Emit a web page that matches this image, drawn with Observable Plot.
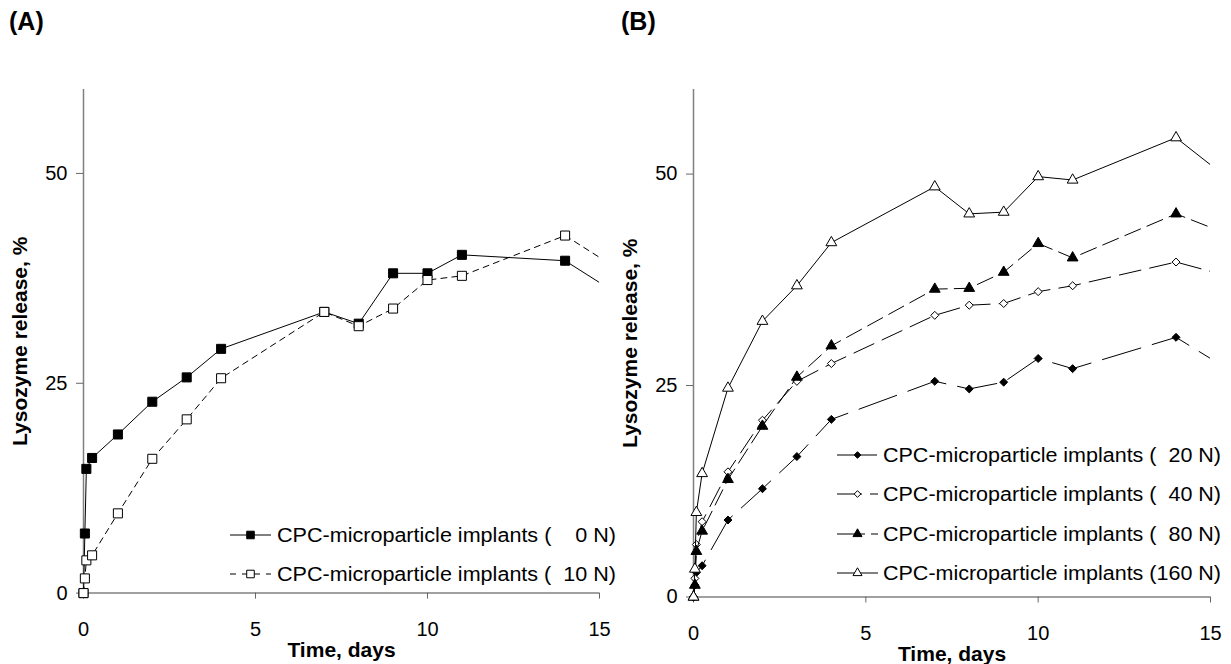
<!DOCTYPE html>
<html><head><meta charset="utf-8">
<script src="https://cdn.jsdelivr.net/npm/d3@7"></script>
<script src="https://cdn.jsdelivr.net/npm/@observablehq/plot@0.6"></script>
<style>
body{margin:0;background:#fff;font-family:"Liberation Sans",Arial,sans-serif;}
#wrap{position:relative;width:1231px;height:664px;overflow:hidden;background:#fff;}
.panel{position:absolute;top:0;}
.ptitle{position:absolute;top:7px;font-weight:bold;font-size:25px;color:#000;}
g[aria-label="x-axis label"] text, g[aria-label="y-axis label"] text{font-weight:bold;font-size:21px;}
</style></head><body><div id="wrap"></div>
<script>
// ---------- data ----------
const panelTitles = ["(A)", "(B)"];
const xTicks = [0, 5, 10, 15];
const yTicks = [0, 25, 50];
const xLabel = "Time, days";
const yLabel = "Lysozyme release, %";

// Panel A
const timesA = [0, 0.04, 0.083, 0.25, 1, 2, 3, 4, 7, 8, 9, 10, 11, 14];
const release0N  = [0, 7.1, 14.8, 16.1, 18.9, 22.8, 25.7, 29.1, 33.5, 32.1, 38.1, 38.1, 40.3, 39.6];
const release10N = [0, 1.75, 3.9, 4.5, 9.5, 16.0, 20.7, 25.6, 33.5, 31.8, 33.9, 37.3, 37.8, 42.6];
// value where each line leaves the plot at the right edge (day 15)
const edgeDay = 15;
const edge0N = 37.0, edge10N = 40.0;

// Panel B
const timesB = [0, 0.04, 0.083, 0.25, 1, 2, 3, 4, 7, 8, 9, 10, 11, 14];
const release20N  = [0, 1.4, 2.9, 3.7, 9.1, 12.8, 16.6, 21.0, 25.5, 24.6, 25.4, 28.2, 27.0, 30.7];
const release40N  = [0, 2.2, 6.2, 8.9, 14.8, 20.9, 25.5, 27.6, 33.3, 34.5, 34.7, 36.1, 36.8, 39.6];
const release80N  = [0, 1.4, 5.4, 7.8, 13.9, 20.2, 26.0, 29.7, 36.4, 36.5, 38.4, 41.8, 40.1, 45.3];
const release160N = [0, 3.3, 10.0, 14.6, 24.7, 32.6, 36.8, 41.9, 48.5, 45.3, 45.5, 49.7, 49.3, 54.3];
const edge20N = 28.2, edge40N = 38.5, edge80N = 43.7, edge160N = 51.1;

const seriesA = [
  {name: "CPC-microparticle implants (    0 N)", t: timesA, v: release0N, edge: edge0N, symbol: "square", fill: "black", dash: null, r: 5.1},
  {name: "CPC-microparticle implants (  10 N)", t: timesA, v: release10N, edge: edge10N, symbol: "square", fill: "white", dash: "6,5", r: 5.1}
];
const seriesB = [
  {name: "CPC-microparticle implants (  20 N)", t: timesB, v: release20N, edge: edge20N, symbol: "diamond2", fill: "black", dash: "40,12", r: 3.6},
  {name: "CPC-microparticle implants (  40 N)", t: timesB, v: release40N, edge: edge40N, symbol: "diamond2", fill: "white", dash: "22,9", r: 3.6},
  {name: "CPC-microparticle implants (  80 N)", t: timesB, v: release80N, edge: edge80N, symbol: "triangle", fill: "black", dash: "17,7", r: 4.0},
  {name: "CPC-microparticle implants (160 N)", t: timesB, v: release160N, edge: edge160N, symbol: "triangle", fill: "white", dash: null, r: 4.0}
];

// ---------- drawing ----------
const wrap = document.getElementById("wrap");

function makePanel(series, opts) {
  const marks = [];
  for (const s of series) {
    const pts = s.t.map((t, i) => ({t, v: s.v[i]}));
    const linePts = pts.concat([{t: edgeDay, v: s.edge}]);
    marks.push(Plot.line(linePts, {x: "t", y: "v", stroke: "black", strokeWidth: 1, strokeDasharray: s.dash || undefined, clip: true}));
    marks.push(Plot.dot(pts, {x: "t", y: "v", symbol: () => s.symbol, r: s.r, fill: s.fill, stroke: "black", strokeWidth: 1}));
  }
  const plot = Plot.plot({
    width: opts.width,
    height: 664,
    marginLeft: 83,
    marginRight: opts.marginRight,
    marginTop: 89,
    marginBottom: opts.marginBottom,
    style: {fontSize: "20px", fontFamily: "'Liberation Sans', Arial, sans-serif", background: "transparent", overflow: "visible"},
    x: {domain: [0, 15]},
    y: {domain: [0, 60]},
    marks: [
      Plot.ruleX([0], {stroke: "#808080", strokeWidth: 1.5}),
      Plot.ruleY([0], {stroke: "#808080", strokeWidth: 1.5}),
      Plot.axisX({ticks: xTicks, tickSize: 6, tickPadding: 23, stroke: "#666", label: xLabel, labelAnchor: "center", labelArrow: "none", labelOffset: 64}),
      Plot.axisY({ticks: yTicks, tickSize: 7, tickPadding: 9, stroke: "#666", label: yLabel, labelAnchor: "center", labelArrow: "none", labelOffset: opts.yLabelOffset}),
      ...marks
    ]
  });
  plot.classList.add("panel");
  plot.style.left = opts.left + "px";
  wrap.appendChild(plot);

  // legend
  const svg = d3.select(plot);
  const lg = svg.append("g").attr("class", "legend").attr("text-anchor", "start");
  const symMap = {square: d3.symbolSquare, diamond2: d3.symbolDiamond2, triangle: d3.symbolTriangle};
  series.forEach((s, i) => {
    const y = opts.legendY[i];
    const row = lg.append("g");
    row.append("line").attr("x1", opts.lx0).attr("x2", opts.lx1).attr("y1", y).attr("y2", y)
      .attr("stroke", "black").attr("stroke-width", 1).attr("stroke-dasharray", s.dash ? opts.sampleDash[i] : null);
    row.append("path").attr("transform", `translate(${(opts.lx0 + opts.lx1) / 2},${y})`)
      .attr("d", d3.symbol(symMap[s.symbol], Math.PI * s.r * s.r * 0.7)())
      .attr("fill", s.fill).attr("stroke", "black");
    row.append("text").attr("x", opts.tx).attr("y", y).attr("dy", "0.36em")
      .attr("text-anchor", "start")
      .attr("font-size", 19.5).attr("font-family", "'Liberation Sans', Arial, sans-serif")
      .attr("textLength", opts.tlen).attr("lengthAdjust", "spacingAndGlyphs")
      .style("white-space", "pre").text(s.name);
  });
}

makePanel(seriesA, {left: 0, width: 615, marginRight: 16, marginBottom: 71.4, yLabelOffset: 71,
  legendY: [535, 574], lx0: 230, lx1: 271, tx: 277, tlen: 339, sampleDash: [null, "6,6"]});
makePanel(seriesB, {left: 610, width: 621, marginRight: 21, marginBottom: 67.5, yLabelOffset: 71,
  legendY: [455, 494, 534, 573], lx0: 227, lx1: 268, tx: 273, tlen: 338, sampleDash: ["40,12", "25,8", "28,6", null]});

panelTitles.forEach((t, i) => {
  const d = document.createElement("div");
  d.className = "ptitle";
  d.style.left = (i === 0 ? 9 : 621) + "px";
  d.textContent = t;
  wrap.appendChild(d);
});
</script></body></html>
